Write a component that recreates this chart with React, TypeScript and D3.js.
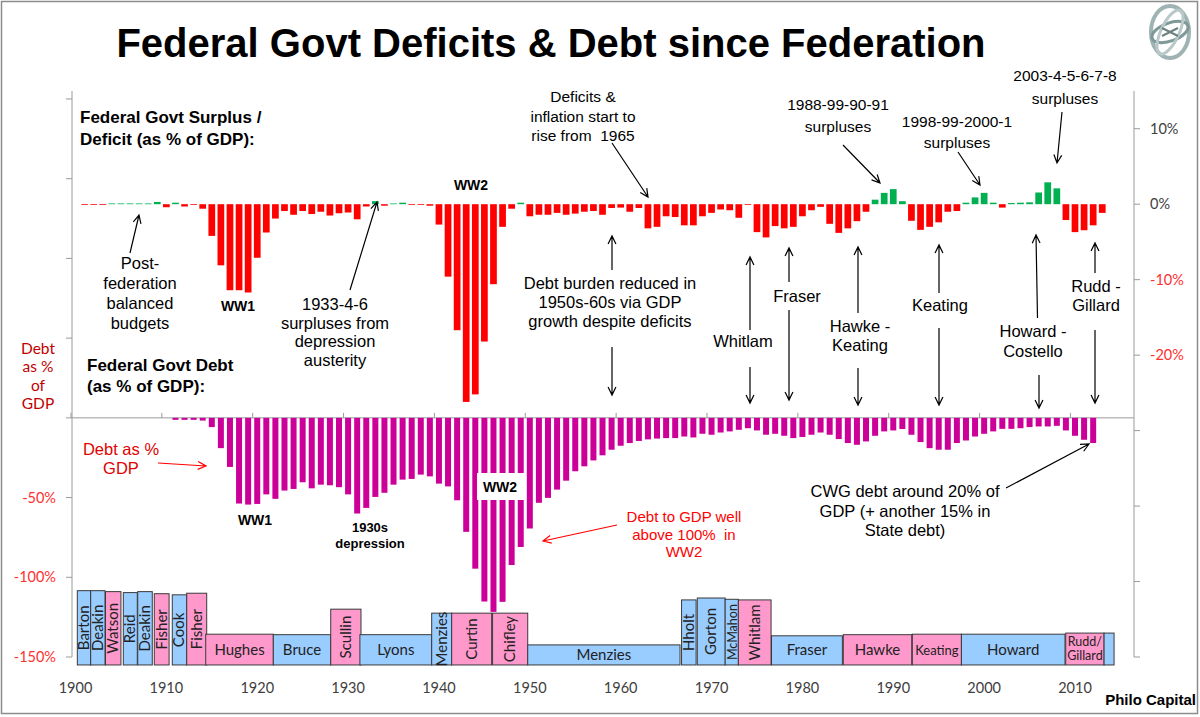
import React from 'react';
import * as d3 from 'd3';

// Federal Govt Surplus(+) / Deficit(-) as % of GDP, one value per year from 1901
const deficitStart = 1901;
const deficitPct = [
  // 1901-1910
  -0.1, -0.1, -0.1, 0.1, 0.1, 0.1, 0.1, 0.1, 0.3, -0.4,
  // 1911-1920
  0.2, -0.3, -0.1, -0.6, -4.2, -8.1, -11.4, -11.4, -11.7, -7.1,
  // 1921-1930
  -3.75, -1.9, -0.9, -1.4, -0.9, -1.3, -1.0, -1.5, -1.2, -1.1,
  // 1931-1940
  -2.0, -0.3, 0.4, -0.2, 0.1, 0.2, -0.1, -0.1, -0.2, -2.7,
  // 1941-1950
  -9.6, -16.7, -26.2, -25.2, -18.2, -10.6, -3.0, -0.6, 0.2, -1.6,
  // 1951-1960
  -1.4, -1.4, -1.15, -1.4, -1.25, -1.0, -0.9, -1.4, -0.5, -0.45,
  // 1961-1970
  -1.0, -0.5, -3.2, -3.0, -1.6, -1.7, -2.8, -2.8, -1.6, -1.15,
  // 1971-1980
  -0.7, -0.8, -1.8, -0.1, -3.7, -4.4, -2.9, -3.2, -3.0, -1.6,
  // 1981-1990
  -0.8, -0.35, -2.6, -3.8, -3.2, -2.25, -1.0, 0.6, 1.5, 2.0,
  // 1991-2000
  0.4, -2.2, -3.4, -3.0, -2.4, -1.0, -0.9, 0.2, 0.9, 1.5,
  // 2001-2010
  0.2, -0.45, 0.15, 0.2, 0.25, 1.55, 2.9, 2.1, -2.1, -3.7,
  // 2011-2013
  -3.45, -2.8, -1.15,
];

// Federal Govt Debt as % of GDP (drawn downward), one value per year from 1911
const debtStart = 1911;
const debtPct = [
  // 1911-1920
  -1.25, -1.25, -1.25, -1.7, -5.8, -19, -30.8, -53.75, -54.4, -54,
  // 1921-1930
  -48, -50.8, -45.6, -44.6, -40.4, -44.2, -41.9, -42.3, -43.5, -48,
  // 1931-1940
  -60, -56.5, -49.6, -47, -41.9, -38.75, -38.3, -35.6, -36.7, -41.25,
  // 1941-1950
  -43, -51.7, -71.5, -94.6, -115.2, -121.7, -115.4, -92.3, -81, -69.4,
  // 1951-1960
  -53.3, -50.2, -45, -39.4, -33.5, -30.4, -26.7, -23.5, -20, -17.5,
  // 1961-1970
  -15.8, -14.5, -13.5, -13, -12.7, -12.7, -11.7, -12.3, -10, -10.6,
  // 1971-1980
  -9.2, -8.5, -7.5, -6.5, -7.9, -10.6, -10, -11.25, -12.7, -12,
  // 1981-1990
  -10.6, -9.2, -10.6, -13.3, -15.8, -16.9, -14.8, -11.25, -8.5, -7.9,
  // 1991-2000
  -7, -10.6, -15.2, -19, -20, -20, -15.8, -14.2, -11.7, -10,
  // 2001-2010
  -8.5, -6.9, -6.9, -6.5, -5.8, -5.4, -5.4, -5, -7.9, -11.25,
  // 2011-2012
  -13.75, -15.8,
];

// Prime ministers: name, start, end (in chart years), Labor?, box top (debt-axis %)
const pmNames = ['Barton', 'Deakin', 'Watson', 'Reid', 'Deakin', 'Fisher', 'Cook', 'Fisher', 'Hughes', 'Bruce',
  'Scullin', 'Lyons', 'Menzies', 'Curtin', 'Chifley', 'Menzies', 'Hholt', 'Gorton', 'McMahon', 'Whitlam',
  'Fraser', 'Hawke', 'Keating', 'Howard', 'Rudd/Gillard', ''];
const pmFrom = [1900.2, 1901.67, 1903.3, 1905.26, 1906.85, 1908.67, 1910.65, 1912.24, 1914.33, 1921.77,
  1928.09, 1931.3, 1939.2, 1941.4, 1945.9, 1949.77, 1966.7, 1968.43, 1971.5, 1972.95,
  1976.6, 1984.5, 1992.1, 1997.5, 2008.98, 2013.2];
const pmTo = [1901.67, 1903.25, 1905.0, 1906.8, 1908.45, 1910.3, 1912.24, 1914.44, 1921.77, 1928.09,
  1931.42, 1939.2, 1941.4, 1945.8, 1949.77, 1966.53, 1968.3, 1971.5, 1972.95, 1976.55,
  1984.4, 1992.03, 1997.5, 2008.9, 2013.2, 2014.3];
const pmLabor = [false, false, true, false, false, true, false, true, true, false,
  true, false, false, true, true, false, false, false, false, true,
  false, true, true, false, true, false];
const pmTop = [-108.4, -108.4, -109, -109.6, -109, -110.3, -111, -110, -135.7, -136,
  -120, -136, -122.5, -122.5, -122.5, -142.4, -114.2, -113, -113.8, -114.2,
  -136.7, -136, -135.7, -135.7, -135, -135];
const pmBottom = -155;

const decadeLabels = [1900, 1910, 1920, 1930, 1940, 1950, 1960, 1970, 1980, 1990, 2000, 2010];
const rightTicks = [10, 0, -10, -20, -30, -40, -50, -60];
const rightLabels = [10, 0, -10, -20];
const leftTicks = [200, 150, 100, 50, 0, -50, -100, -150];
const leftLabels = [-50, -100, -150];

const ANNO = 'Liberation Sans, Arial, sans-serif';
const CAL = 'Lato, Carlito, Calibri, sans-serif';

const xYear = d3.scaleLinear().domain([1900, 2010]).range([75.5, 1075]);
const yDef = d3.scaleLinear().domain([-60, 15]).range([657, 91]);
const yDebt = d3.scaleLinear().domain([-150, 205]).range([657, 91]);
const step = xYear(1901) - xYear(1900);
const defW = step * 0.74;
const debtW = step * 0.66;
const leftX = 72;
const rightX = 1134;

// straight line with an open V head at (x2, y2)
function arrowPath(x1: number, y1: number, x2: number, y2: number, head = 9) {
  const a = Math.atan2(y2 - y1, x2 - x1);
  const s = 0.45;
  const p1 = [x2 - head * Math.cos(a - s), y2 - head * Math.sin(a - s)];
  const p2 = [x2 - head * Math.cos(a + s), y2 - head * Math.sin(a + s)];
  return `M${x1},${y1}L${x2},${y2}M${p1[0]},${p1[1]}L${x2},${y2}L${p2[0]},${p2[1]}`;
}

const Lines = ({ x, y, lines, size = 16.5, gap = 19.5, color = '#000', weight = 'normal', anchor = 'middle', family = ANNO }:
  { x: number; y: number; lines: string[]; size?: number; gap?: number; color?: string; weight?: string; anchor?: string; family?: string }) => (
  <text x={x} y={y} fontFamily={family} fontSize={size} fill={color} fontWeight={weight} textAnchor={anchor as any}>
    {lines.map((l, i) => (
      <tspan key={i} x={x} dy={i === 0 ? 0 : gap} style={{ whiteSpace: 'pre' }}>{l}</tspan>
    ))}
  </text>
);

export default function App() {
  const deficitBars = deficitPct.map((v, i) => ({ year: deficitStart + i, v }));
  const debtBars = debtPct.map((v, i) => ({ year: debtStart + i, v }));
  const pms = pmNames.map((name, i) => ({
    name,
    from: pmFrom[i],
    to: pmTo[i],
    labor: pmLabor[i],
    top: pmTop[i],
  }));

  const arrows: Array<[number, number, number, number]> = [
    [130, 253, 139, 215],
    [350, 290, 377, 202],
    [612, 143, 648, 197],
    [843, 145, 880, 183],
    [958, 152, 980, 185],
    [1062, 112, 1057, 163],
    [612, 270, 612, 236], [612, 347, 612, 395],
    [750, 330, 750, 257], [750, 367, 750, 403],
    [789, 282, 789, 248], [789, 310, 789, 400],
    [858, 313, 858, 247], [858, 368, 858, 405],
    [939, 293, 939, 245], [939, 328, 939, 405],
    [1037.5, 318, 1036, 235], [1039, 375, 1039, 408],
    [1095, 273, 1095, 243], [1095, 330, 1095, 403],
    [1006, 488, 1089, 444],
  ];

  return (
    <svg width={1200} height={717} style={{ position: 'absolute', left: 0, top: 0, background: '#fff' }}>
      <rect x={1.5} y={1.5} width={1196} height={712} fill="#fff" stroke="#8c8c8c" strokeWidth={1.5} />

      {/* title */}
      <text x={551} y={57} textAnchor="middle" fontFamily={ANNO} fontWeight="bold" fontSize={40} fill="#000">
        Federal Govt Deficits &amp; Debt since Federation
      </text>

      {/* logo */}
      <g transform="translate(1170,32)">
        <ellipse rx={19} ry={26} fill="none" stroke="#9fb3b3" strokeWidth={4} />
        <ellipse rx={19} ry={9} fill="none" stroke="#7f9898" strokeWidth={3} transform="rotate(-20)" />
        <ellipse rx={9} ry={24} fill="none" stroke="#b9c9c9" strokeWidth={3} transform="rotate(25)" />
        <path d="M-8,-4L8,4M-8,4L8,-4" stroke="#6c8080" strokeWidth={2} />
      </g>

      {/* axes */}
      <line x1={leftX} x2={leftX} y1={91} y2={657} stroke="#9a9a9a" />
      <line x1={rightX} x2={rightX} y1={91} y2={657} stroke="#9a9a9a" />
      <line x1={leftX} x2={rightX} y1={yDebt(0)} y2={yDebt(0)} stroke="#9a9a9a" />
      {leftTicks.map((t) => (
        <line key={t} x1={leftX - 6} x2={leftX} y1={yDebt(t)} y2={yDebt(t)} stroke="#9a9a9a" />
      ))}
      {leftLabels.map((t) => (
        <text key={t} x={56} y={yDebt(t) + 5} textAnchor="end" fontFamily={CAL} fontSize={14.5} fill="#ff3030">{`${t}%`}</text>
      ))}
      {rightTicks.map((t) => (
        <line key={t} x1={rightX} x2={rightX + 6} y1={yDef(t)} y2={yDef(t)} stroke="#9a9a9a" />
      ))}
      {rightLabels.map((t) => (
        <text key={t} x={1150} y={yDef(t) + 5} fontFamily={CAL} fontSize={14.5} fill={t < 0 ? '#ff3030' : '#404040'}>{`${t}%`}</text>
      ))}
      {decadeLabels.map((d) => (
        <g key={d}>
          <line x1={xYear(d) - step / 2} x2={xYear(d) - step / 2} y1={yDebt(0)} y2={yDebt(0) - 5} stroke="#9a9a9a" />
          <text x={xYear(d)} y={693} textAnchor="middle" fontFamily={CAL} fontSize={14.5} fill="#404040">{d}</text>
        </g>
      ))}

      {/* deficit bars */}
      {deficitBars.map((d) => (
        <rect key={d.year} x={xYear(d.year) - defW / 2} width={defW}
          y={yDef(Math.max(0, d.v))} height={Math.abs(yDef(d.v) - yDef(0))}
          fill={d.v < 0 ? '#ff0000' : '#00b050'} />
      ))}

      {/* debt bars */}
      {debtBars.map((d) => (
        <rect key={d.year} x={xYear(d.year) - debtW / 2} width={debtW}
          y={yDebt(0)} height={yDebt(d.v) - yDebt(0)} fill="#cc0099" />
      ))}

      {/* PM boxes */}
      {pms.map((p, i) => {
        const x0 = xYear(p.from), x1 = xYear(p.to);
        const y0 = yDebt(p.top), y1 = yDebt(pmBottom);
        const w = x1 - x0, h = y1 - y0;
        const cx = (x0 + x1) / 2, cy = (y0 + y1) / 2;
        const vertical = w < 40;
        const small = p.name === 'McMahon' || p.name === 'Keating';
        return (
          <g key={i}>
            <rect x={x0} y={y0} width={w} height={h} fill={p.labor ? '#ff99cc' : '#99ccff'} stroke="#3a3a3a" strokeWidth={1} />
            {p.name === 'Rudd/Gillard' ? (
              <Lines x={cx} y={cy - 3} lines={['Rudd/', 'Gillard']} size={12.5} gap={14} color="#222" family={CAL} />
            ) : vertical ? (
              <text transform={`translate(${cx + 5},${cy}) rotate(-90)`} textAnchor="middle" fontFamily={CAL}
                fontSize={small ? 12.5 : 15} fill="#222">{p.name}</text>
            ) : (
              <text x={cx} y={cy + 5} textAnchor="middle" fontFamily={CAL} fontSize={small ? 13 : 15} fill="#222">{p.name}</text>
            )}
          </g>
        );
      })}

      {/* annotations */}
      <Lines x={80} y={123} lines={['Federal Govt Surplus /', 'Deficit (as % of GDP):']} size={17} gap={22} weight="bold" anchor="start" />
      <Lines x={87} y={371} lines={['Federal Govt Debt', '(as % of GDP):']} size={17} gap={21} weight="bold" anchor="start" />
      <Lines x={38} y={354} lines={['Debt', 'as %', 'of', 'GDP']} size={15.5} gap={18.3} color="#c00000" family={CAL} />
      <Lines x={140} y={269} lines={['Post-', 'federation', 'balanced', 'budgets']} gap={20} />
      <Lines x={335} y={310} lines={['1933-4-6', 'surpluses from', 'depression', 'austerity']} gap={18.5} />
      <Lines x={610} y={289} lines={['Debt burden reduced in', '1950s-60s via GDP', 'growth despite deficits']} gap={19} />
      <Lines x={583} y={102} lines={['Deficits &', 'inflation start to', 'rise from  1965']} size={15.5} gap={19.5} />
      <Lines x={838} y={110} lines={['1988-99-90-91', 'surpluses']} size={15.5} gap={22} />
      <Lines x={957} y={127} lines={['1998-99-2000-1', 'surpluses']} size={15.5} gap={21} />
      <Lines x={1065} y={81} lines={['2003-4-5-6-7-8', 'surpluses']} size={15.5} gap={23} />
      <Lines x={743} y={347} lines={['Whitlam']} />
      <Lines x={797} y={302} lines={['Fraser']} />
      <Lines x={860} y={332} lines={['Hawke -', 'Keating']} gap={19} />
      <Lines x={940} y={311} lines={['Keating']} />
      <Lines x={1033} y={337} lines={['Howard -', 'Costello']} gap={20} />
      <Lines x={1096} y={292} lines={['Rudd -', 'Gillard']} gap={19} />
      <Lines x={905} y={497} lines={['CWG debt around 20% of', 'GDP (+ another 15% in', 'State debt)']} gap={19.5} />
      <Lines x={121} y={455} lines={['Debt as %', 'GDP']} size={16.5} gap={19} color="#e00000" />
      <Lines x={684} y={522} lines={['Debt to GDP well', 'above 100%  in', 'WW2']} size={15} gap={17.5} color="#ff0000" />

      <Lines x={238} y={311} lines={['WW1']} size={14} weight="bold" />
      <Lines x={471} y={190} lines={['WW2']} size={14} weight="bold" />
      <Lines x={255} y={525} lines={['WW1']} size={14} weight="bold" />
      <Lines x={370} y={532} lines={['1930s', 'depression']} size={13} gap={15.5} weight="bold" />
      <rect x={477} y={473} width={48} height={27} fill="#fff" />
      <Lines x={500} y={492} lines={['WW2']} size={14} weight="bold" />

      {arrows.map((a, i) => (
        <path key={i} d={arrowPath(a[0], a[1], a[2], a[3])} fill="none" stroke="#000" strokeWidth={1.2} />
      ))}
      <path d={arrowPath(158, 463, 206, 466)} fill="none" stroke="#ff0000" strokeWidth={1.2} />
      <path d={arrowPath(617, 525, 543, 541)} fill="none" stroke="#ff0000" strokeWidth={1.2} />

      <text x={1196} y={705} textAnchor="end" fontFamily={ANNO} fontWeight="bold" fontSize={15} fill="#000">Philo Capital</text>
    </svg>
  );
}
